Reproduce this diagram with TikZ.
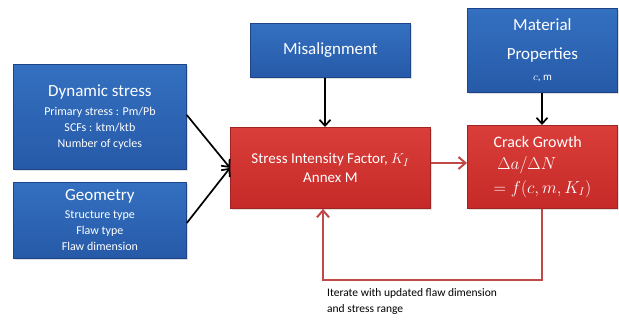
\documentclass[tikz,border=0pt]{standalone}
\usepackage{fontspec}
\setmainfont{Carlito}
\usetikzlibrary{arrows.meta,positioning,shadows}

\definecolor{boxblue}{RGB}{52,112,192}
\definecolor{boxblueB}{RGB}{38,90,168}
\definecolor{edgeblue}{RGB}{30,68,135}
\definecolor{boxred}{RGB}{218,62,58}
\definecolor{boxredB}{RGB}{198,42,40}
\definecolor{edgered}{RGB}{160,36,34}
\definecolor{looped}{RGB}{192,74,72}

\newcommand\bigtxt{\fontsize{17}{20}\selectfont}
\newcommand\smalltxt{\fontsize{12}{16}\selectfont}

\tikzset{
  inbox/.style={draw=edgeblue, line width=.8pt, top color=boxblue, bottom color=boxblueB,
    text=white, align=center, inner sep=2pt, anchor=north west, font=\smalltxt,
    drop shadow={shadow xshift=1.5pt, shadow yshift=-1.5pt, opacity=.25}},
  calcbox/.style={draw=edgered, line width=.8pt, top color=boxred, bottom color=boxredB,
    text=white, inner sep=2pt, anchor=north west,
    drop shadow={shadow xshift=1.5pt, shadow yshift=-1.5pt, opacity=.25}},
  link/.style={-{Straight Barb[length=6pt,width=11pt]}, line width=1.7pt},
  feed/.style={-{Straight Barb[length=7pt,width=12pt]}, line width=2pt, draw=looped},
}

\begin{document}
\begin{tikzpicture}[x=1pt, y=-1pt]
  \useasboundingbox (0,0) rectangle (619,327);

  % input boxes
  \node[inbox, minimum width=173pt, minimum height=105pt] (dyn) at (13,64)
    {\bigtxt Dynamic stress\\[3pt]
     Primary stress : Pm/Pb\\SCFs : ktm/ktb\\Number of cycles};
  \node[inbox, minimum width=173pt, minimum height=76pt] (geo) at (13,182)
    {\bigtxt Geometry\\[2pt]
     Structure type\\Flaw type\\Flaw dimension};
  \node[inbox, minimum width=160pt, minimum height=54pt] (mis) at (250,23)
    {\bigtxt Misalignment};
  \node[inbox, minimum width=150pt, minimum height=84pt, font=\fontsize{17}{29}\selectfont] (mat) at (467,8)
    {Material\\Properties\\[-8pt]
     \fontsize{11}{13}\selectfont $c$, m};

  % calculation boxes
  \node[calcbox, align=center, minimum width=200pt, minimum height=81pt,
        font=\fontsize{15}{19}\selectfont] (sif) at (230,127)
    {Stress Intensity Factor, $K_I$\\Annex M};
  \node[calcbox, align=left, minimum width=150pt, minimum height=83pt,
        font=\fontsize{16}{22}\selectfont] (crk) at (467,125)
    {Crack Growth\\\ $\Delta a/\Delta N$\\[2pt]$= f(c,m,K_I)$};

  % connectors
  \draw[link] (dyn.east |- 0,115) -- (sif.west);
  \draw[link] (geo.east |- 0,223) -- (sif.west);
  \draw[link] (mis.south -| 325,0) -- (sif.north -| 325,0);
  \draw[link] (mat.south -| 542,0) -- (crk.north -| 542,0);
  \draw[feed] (sif.east |- 0,163) -- (crk.west |- 0,163);

  % iteration loop
  \coordinate (turn) at (542,280);
  \draw[feed] (crk.south -| turn) -- (turn) -| (sif.south -| 323,0);
  \node[anchor=north west, align=left, font=\fontsize{11.5}{16}\selectfont, inner sep=0pt] (iter) at (327,288)
    {Iterate with updated flaw dimension\\and stress range};
\end{tikzpicture}
\end{document}
